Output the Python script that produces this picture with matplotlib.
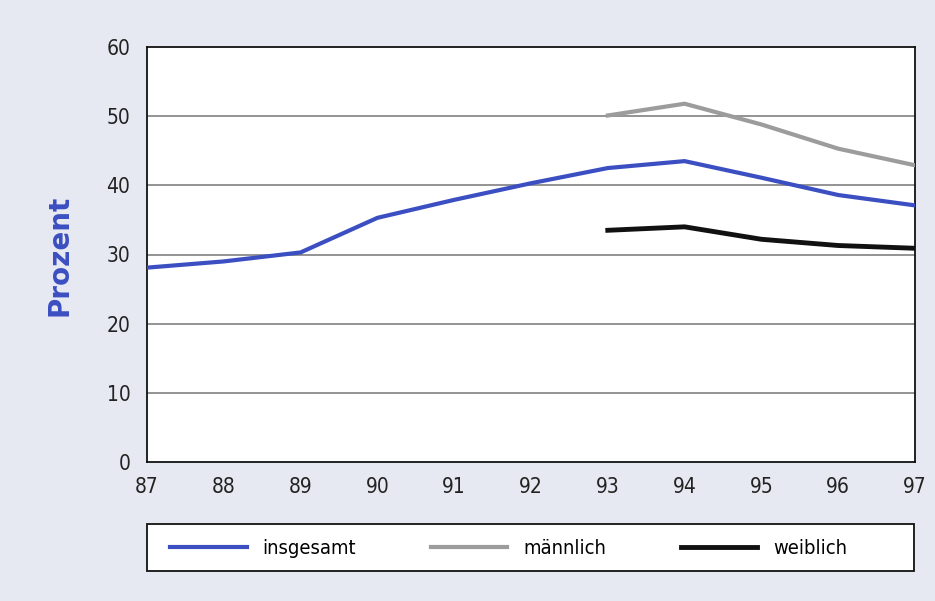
import matplotlib
matplotlib.use('Agg')
import matplotlib.pyplot as plt
from matplotlib.lines import Line2D
from matplotlib.patches import Rectangle

years = [87, 88, 89, 90, 91, 92, 93, 94, 95, 96, 97]
insgesamt = [28.1, 29.0, 30.3, 35.3, 37.9, 40.3, 42.5, 43.5, 41.1, 38.6, 37.1]
years_mf = [93, 94, 95, 96, 97]
maennlich = [50.1, 51.8, 48.8, 45.3, 42.9]
weiblich = [33.5, 34.0, 32.2, 31.3, 30.9]
labels = ['insgesamt', 'männlich', 'weiblich']

blue = '#3b4fc2'
grey = '#9c9c9c'
plt.rcParams['font.family'] = ['DejaVu Sans']
plt.rcParams['font.stretch'] = 'condensed'

fig = plt.figure(figsize=(9.35, 6.01), dpi=100, facecolor='#e6e9f1')
ax = fig.add_axes([147 / 935, 1 - 462 / 601, 768 / 935, 415 / 601])
ax.set_facecolor('white')

ax.plot(years, insgesamt, color=blue, lw=3, zorder=3)
ax.plot(years_mf, maennlich, color=grey, lw=3, zorder=3)
ax.plot(years_mf, weiblich, color='#111111', lw=3.5, zorder=3)

ax.set_xlim(87, 97)
ax.set_ylim(0, 60)
ax.set_xticks(years)
ax.set_yticks(range(0, 61, 10))
ax.tick_params(length=0, labelsize=15, colors='#222222')
ax.tick_params(axis='x', pad=11)
ax.tick_params(axis='y', pad=12)
for y in range(10, 60, 10):
    ax.axhline(y, color='#8a8a8a', lw=1.3, zorder=1)
for s in ax.spines.values():
    s.set_color('#111111')
    s.set_linewidth(1.3)

fig.text(60 / 935, 1 - 255 / 601, 'Prozent', rotation=90, color=blue,
         fontsize=20, fontweight='bold', family='DejaVu Sans', stretch='normal',
         ha='center', va='center')

# legend box
fig.patches.append(Rectangle((147 / 935, 1 - 571 / 601), 767 / 935, 47 / 601,
                             transform=fig.transFigure, facecolor='white',
                             edgecolor='#111111', lw=1.3, zorder=0))
handles = [Line2D([], [], color=blue, lw=3),
           Line2D([], [], color=grey, lw=3),
           Line2D([], [], color='#111111', lw=3.5)]
leg = fig.legend(handles, labels, loc='center left', ncol=3,
                 bbox_to_anchor=(170 / 935, 1 - 549 / 601),
                 borderaxespad=0, borderpad=0, fontsize=14.5, handlelength=3.8,
                 handletextpad=0.8, columnspacing=3.7, frameon=False)

fig.savefig('out.png', dpi=100, facecolor=fig.get_facecolor())
